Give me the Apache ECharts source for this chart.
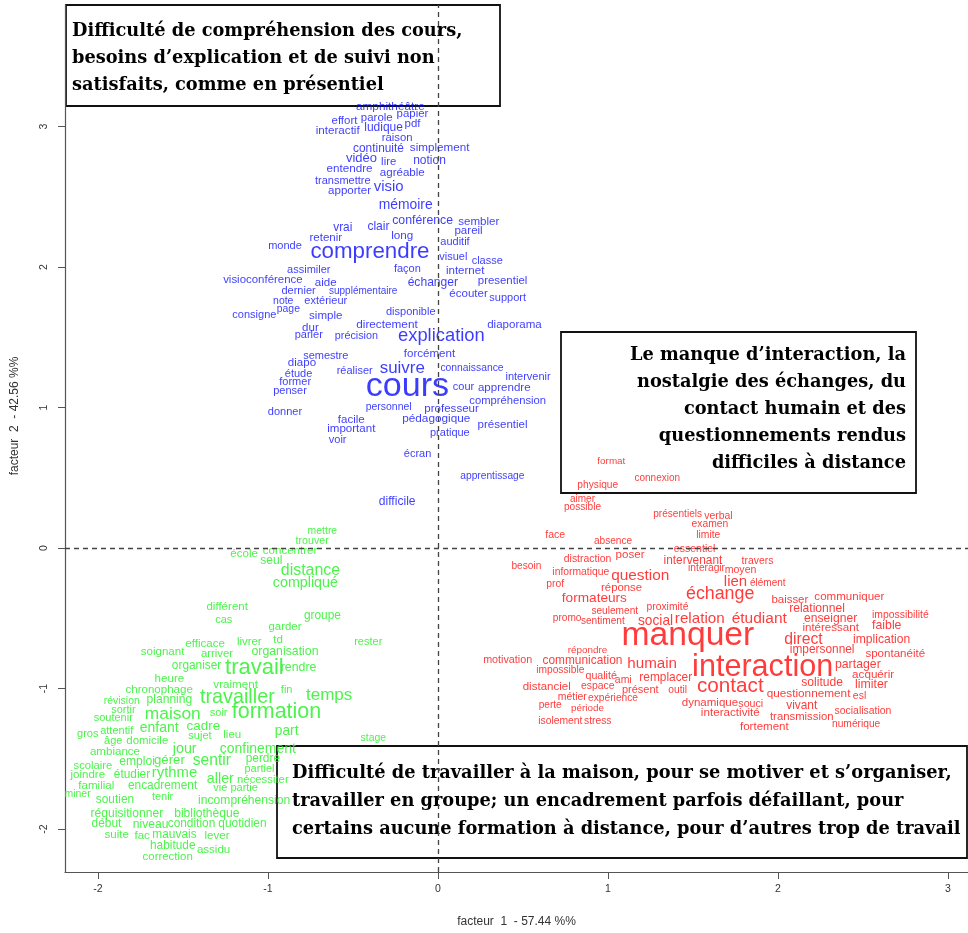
<!DOCTYPE html>
<html>
<head>
<meta charset="utf-8">
<script src="https://cdn.jsdelivr.net/npm/echarts@6/dist/echarts.min.js"></script>
<style>html,body{margin:0;padding:0;background:#fff}#chart{width:968px;height:933px}</style>
</head>
<body>
<div id="chart"></div>
<script>
// Factorial plane: [word, factor1, factor2, relative frequency weight]
const xTicks = [-2, -1, 0, 1, 2, 3];
const yTicks = [-2, -1, 0, 1, 2, 3];
const xTitle = 'facteur  1  - 57.44 %%';
const yTitle = 'facteur  2  - 42.56 %%';

const blueWords = [
['amphithéâtre',-0.28,3.14,1.07],['effort',-0.55,3.04,1.04],['parole',-0.36,3.06,1.04],['papier',-0.15,3.09,1.04],
['interactif',-0.59,2.97,1.06],['ludique',-0.32,2.99,1.09],['pdf',-0.15,3.02,1.04],['raison',-0.24,2.92,1.03],
['continuité',-0.35,2.84,1.08],['simplement',0.01,2.85,1.06],['vidéo',-0.45,2.77,1.18],['lire',-0.29,2.75,1.03],
['notion',-0.05,2.76,1.09],['entendre',-0.52,2.70,1.06],['agréable',-0.21,2.67,1.05],['transmettre',-0.56,2.61,1.0],
['visio',-0.29,2.57,1.36],['apporter',-0.52,2.54,1.05],['mémoire',-0.19,2.44,1.26],['vrai',-0.56,2.28,1.08],
['clair',-0.35,2.29,1.1],['conférence',-0.09,2.33,1.12],['sembler',0.24,2.32,1.05],['pareil',0.18,2.26,1.05],
['long',-0.21,2.22,1.06],['retenir',-0.66,2.21,1.05],['auditif',0.10,2.18,1.0],['monde',-0.90,2.15,1.0],
['comprendre',-0.40,2.11,2.03],['visuel',0.09,2.07,1.0],['classe',0.29,2.04,1.0],['assimiler',-0.76,1.98,1.0],
['façon',-0.18,1.99,1.0],['internet',0.16,1.97,1.05],['visioconférence',-1.03,1.91,1.04],['aide',-0.66,1.89,1.05],
['échanger',-0.03,1.89,1.1],['presentiel',0.38,1.90,1.04],['dernier',-0.82,1.83,1.0],['supplémentaire',-0.44,1.83,0.91],
['écouter',0.18,1.81,1.05],['support',0.41,1.78,1.0],['note',-0.91,1.76,0.95],['extérieur',-0.66,1.76,1.0],
['page',-0.88,1.70,0.95],['consigne',-1.08,1.66,1.0],['simple',-0.66,1.65,1.05],['disponible',-0.16,1.68,1.0],
['directement',-0.30,1.59,1.07],['diaporama',0.45,1.59,1.05],['dur',-0.75,1.57,1.05],['explication',0.02,1.51,1.67],
['parler',-0.76,1.52,1.0],['précision',-0.48,1.51,0.98],['semestre',-0.66,1.37,1.0],['forcément',-0.05,1.38,1.05],
['diapo',-0.80,1.32,1.05],['suivre',-0.21,1.28,1.54],['réaliser',-0.49,1.26,1.0],['connaissance',0.20,1.28,0.94],
['étude',-0.82,1.24,1.0],['intervenir',0.53,1.22,1.0],['former',-0.84,1.18,1.0],['cours',-0.18,1.15,3.1],
['penser',-0.87,1.12,1.0],['cour',0.15,1.15,1.0],['apprendre',0.39,1.14,1.05],['compréhension',0.41,1.05,1.02],
['donner',-0.90,0.97,1.0],['personnel',-0.29,1.00,0.95],['professeur',0.08,0.99,1.05],['facile',-0.51,0.91,1.05],
['pédagogique',-0.01,0.92,1.07],['important',-0.51,0.85,1.05],['présentiel',0.38,0.88,1.05],['pratique',0.07,0.82,1.0],
['voir',-0.59,0.77,1.0],['écran',-0.12,0.67,1.0],['apprentissage',0.32,0.51,0.93],['difficile',-0.24,0.33,1.1]
];

const redWords = [
['format',1.02,0.62,0.9],['connexion',1.29,0.50,0.91],['physique',0.94,0.45,0.93],['aimer',0.85,0.35,0.91],
['possible',0.85,0.29,0.92],['présentiels',1.41,0.24,0.92],['verbal',1.65,0.23,0.95],['examen',1.60,0.17,0.94],
['limite',1.59,0.09,0.94],['face',0.69,0.09,0.96],['absence',1.03,0.05,0.92],['essentiel',1.51,-0.01,0.96],
['distraction',0.88,-0.08,0.95],['poser',1.13,-0.05,1.05],['intervenant',1.50,-0.09,1.08],['travers',1.88,-0.09,0.95],
['besoin',0.52,-0.13,0.92],['informatique',0.84,-0.17,0.94],['interagir',1.58,-0.14,0.93],['moyen',1.78,-0.16,0.96],
['question',1.19,-0.20,1.4],['prof',0.69,-0.26,0.94],['réponse',1.08,-0.28,1.03],['lien',1.75,-0.24,1.36],
['élément',1.94,-0.25,0.91],['formateurs',0.92,-0.36,1.24],['échange',1.66,-0.33,1.62],['baisser',2.07,-0.37,1.04],
['communiquer',2.42,-0.35,1.05],['seulement',1.04,-0.45,0.92],['proximité',1.35,-0.42,0.94],['relationnel',2.23,-0.43,1.1],
['impossibilité',2.72,-0.48,0.95],['promo',0.76,-0.50,0.92],['sentiment',0.97,-0.52,0.92],['social',1.28,-0.52,1.25],
['relation',1.54,-0.50,1.38],['étudiant',1.89,-0.50,1.41],['enseigner',2.31,-0.50,1.1],['intéressant',2.31,-0.57,1.05],
['faible',2.64,-0.55,1.12],['manquer',1.47,-0.62,3.06],['direct',2.15,-0.65,1.43],['implication',2.61,-0.65,1.1],
['impersonnel',2.26,-0.72,1.08],['répondre',0.88,-0.73,0.9],['spontanéité',2.69,-0.75,1.05],['motivation',0.41,-0.80,0.98],
['communication',0.85,-0.80,1.08],['humain',1.26,-0.82,1.38],['partager',2.47,-0.83,1.12],['interaction',1.91,-0.85,2.78],
['impossible',0.72,-0.87,0.93],['acquérir',2.56,-0.90,1.06],['qualité',0.96,-0.91,0.97],['remplacer',1.34,-0.92,1.08],
['ami',1.09,-0.94,0.95],['solitude',2.26,-0.96,1.1],['limiter',2.55,-0.97,1.12],['contact',1.72,-0.98,1.88],
['distanciel',0.64,-0.99,1.05],['espace',0.94,-0.98,0.95],['présent',1.19,-1.01,1.0],['outil',1.41,-1.01,0.93],
['questionnement',2.18,-1.04,1.07],['esl',2.48,-1.05,0.95],['métier',0.79,-1.06,0.95],['expérience',1.03,-1.07,0.93],
['dynamique',1.60,-1.10,1.05],['souci',1.84,-1.11,0.97],['vivant',2.14,-1.12,1.08],['perte',0.66,-1.12,0.92],
['période',0.88,-1.14,0.9],['socialisation',2.50,-1.16,0.95],['interactivité',1.72,-1.17,1.06],['transmission',2.14,-1.20,1.03],
['isolement',0.72,-1.23,0.94],['stress',0.94,-1.23,0.94],['numérique',2.46,-1.25,0.93],['fortement',1.92,-1.27,1.05]
];

const greenWords = [
['mettre',-0.68,0.12,0.95],['trouver',-0.74,0.05,0.97],['école',-1.14,-0.04,1.05],['concentrer',-0.87,-0.02,1.05],
['seul',-0.98,-0.09,1.1],['distance',-0.75,-0.16,1.45],['compliqué',-0.78,-0.25,1.3],['différent',-1.24,-0.42,1.05],
['groupe',-0.68,-0.48,1.08],['cas',-1.26,-0.51,1.0],['garder',-0.90,-0.56,1.04],['td',-0.94,-0.65,1.05],
['efficace',-1.37,-0.68,1.05],['livrer',-1.11,-0.67,1.04],['rester',-0.41,-0.67,1.0],['soignant',-1.62,-0.74,1.05],
['arriver',-1.30,-0.75,1.03],['organisation',-0.90,-0.74,1.12],['organiser',-1.42,-0.84,1.08],['travail',-1.08,-0.85,2.0],
['rendre',-0.82,-0.85,1.12],['heure',-1.58,-0.93,1.06],['vraiment',-1.19,-0.97,1.06],['chronophage',-1.64,-1.01,1.05],
['fin',-0.89,-1.01,1.0],['travailler',-1.18,-1.06,1.8],['temps',-0.64,-1.05,1.55],['révision',-1.86,-1.09,0.95],
['planning',-1.58,-1.08,1.1],['sortir',-1.85,-1.15,1.0],['soutenir',-1.91,-1.21,1.0],['maison',-1.56,-1.18,1.58],
['soir',-1.29,-1.17,1.0],['formation',-0.95,-1.17,1.95],['part',-0.89,-1.30,1.25],['gros',-2.06,-1.32,1.0],
['attentif',-1.89,-1.30,1.0],['enfant',-1.64,-1.28,1.27],['cadre',-1.38,-1.27,1.22],['sujet',-1.40,-1.34,1.0],
['lieu',-1.21,-1.33,1.05],['âge',-1.91,-1.37,1.0],['domicile',-1.71,-1.37,1.04],['stage',-0.38,-1.35,0.95],
['jour',-1.49,-1.43,1.3],['confinement',-1.06,-1.43,1.27],['ambiance',-1.90,-1.45,1.05],['scolaire',-2.03,-1.55,1.02],
['emploi',-1.77,-1.52,1.1],['gérer',-1.58,-1.51,1.2],['sentir',-1.33,-1.51,1.42],['perdre',-1.03,-1.50,1.08],
['joindre',-2.06,-1.61,1.05],['étudier',-1.80,-1.61,1.08],['rythme',-1.55,-1.60,1.35],['partiel',-1.05,-1.57,1.0],
['aller',-1.28,-1.64,1.3],['nécessiter',-1.03,-1.65,1.03],['familial',-2.01,-1.69,1.05],['encadrement',-1.62,-1.69,1.08],
['vie',-1.28,-1.71,1.0],['partie',-1.14,-1.71,1.0],['miner',-2.12,-1.75,0.95],['tenir',-1.62,-1.77,1.0],
['soutien',-1.90,-1.79,1.08],['incompréhension',-1.14,-1.80,1.1],['réquisitionner',-1.83,-1.89,1.1],['bibliothèque',-1.36,-1.89,1.1],
['début',-1.95,-1.96,1.08],['niveau',-1.69,-1.97,1.1],['condition',-1.45,-1.96,1.08],['quotidien',-1.15,-1.96,1.08],
['suite',-1.89,-2.04,1.05],['fac',-1.74,-2.05,1.05],['mauvais',-1.55,-2.04,1.08],['lever',-1.30,-2.05,1.05],
['habitude',-1.56,-2.12,1.08],['assidu',-1.32,-2.15,1.05],['correction',-1.59,-2.20,1.04]
];

const box1Lines = ['Difficulté de compréhension des cours,', 'besoins d’explication et de suivi non', 'satisfaits, comme en présentiel'];
const box2Lines = ['Le manque d’interaction, la', 'nostalgie des échanges, du', 'contact humain et des', 'questionnements rendus', 'difficiles à distance'];
const box3Lines = ['Difficulté de travailler à la maison, pour se motiver et s’organiser,', 'travailler en groupe; un encadrement parfois défaillant, pour', 'certains aucune formation à distance, pour d’autres trop de travail'];

const FONT = '"Liberation Sans", Arial, sans-serif';
const BASE = 11;

function wordSeries(words, color, extra) {
  return Object.assign({
    type: 'scatter',
    symbolSize: 1,
    itemStyle: { color: 'rgba(0,0,0,0)' },
    emphasis: { disabled: true },
    silent: true,
    label: { show: true, position: 'inside', formatter: '{b}', color: color, fontFamily: FONT },
    data: words.map(w => ({ name: w[0], value: [w[1], w[2]], label: { fontSize: BASE * w[3] } }))
  }, extra || {});
}

function boxGroup(x, y, w, h, lines, tx, ty0, lh, align) {
  const children = [{
    type: 'rect', shape: { x: x, y: y, width: w, height: h },
    style: { fill: '#fff', stroke: '#111', lineWidth: 1.8 }
  }];
  lines.forEach((t, i) => children.push({
    type: 'text',
    style: { text: t, x: tx, y: ty0 + i * lh, textAlign: align, textVerticalAlign: 'middle',
      font: 'bold 17.8px "DejaVu Serif", serif', fill: '#000' }
  }));
  return { type: 'group', z: 100, children: children };
}

const axisCommon = {
  type: 'value',
  axisLine: { show: true, onZero: false, lineStyle: { color: '#555', width: 1.2 } },
  splitLine: { show: false },
  nameLocation: 'middle',
  nameTextStyle: { fontFamily: FONT, fontSize: 12, color: '#333' }
};

const chart = echarts.init(document.getElementById('chart'));
chart.setOption({
  animation: false,
  backgroundColor: '#fff',
  grid: { left: 65, right: 0, top: 5, bottom: 58 },
  xAxis: Object.assign({}, axisCommon, {
    min: -2.194, max: 3.118,
    axisTick: { show: true, length: 7, customValues: xTicks, lineStyle: { color: '#555' } },
    axisLabel: { customValues: xTicks, margin: 12, fontSize: 10.5, color: '#333', fontFamily: FONT, formatter: v => String(v) },
    name: xTitle, nameGap: 44
  }),
  yAxis: Object.assign({}, axisCommon, {
    min: -2.305, max: 3.865,
    axisTick: { show: true, length: 7, customValues: yTicks, lineStyle: { color: '#555' } },
    axisLabel: { customValues: yTicks, margin: 15, rotate: 90, fontSize: 10.5, color: '#333', fontFamily: FONT, formatter: v => String(v) }
  }),
  series: [
    wordSeries(blueWords, '#0a0aff', {
      markLine: {
        silent: true, symbol: 'none', animation: false,
        label: { show: false },
        lineStyle: { type: [5, 4], color: '#444', width: 1.3 },
        data: [{ xAxis: 0 }, { yAxis: 0 }]
      }
    }),
    wordSeries(redWords, '#ff0a0a'),
    wordSeries(greenWords, '#1ef01e')
  ],
  graphic: [
    { type: 'text', x: 15, y: 416, rotation: Math.PI / 2,
      style: { text: yTitle, textAlign: 'center', textVerticalAlign: 'middle', font: '12px "Liberation Sans", Arial, sans-serif', fill: '#333' } },
    boxGroup(66, 5, 434, 101, box1Lines, 72, 31, 27, 'left'),
    boxGroup(561, 332, 355, 161, box2Lines, 906, 355, 27.2, 'right'),
    boxGroup(277, 746, 690, 112, box3Lines, 292, 773, 28, 'left')
  ]
});
</script>
</body>
</html>
